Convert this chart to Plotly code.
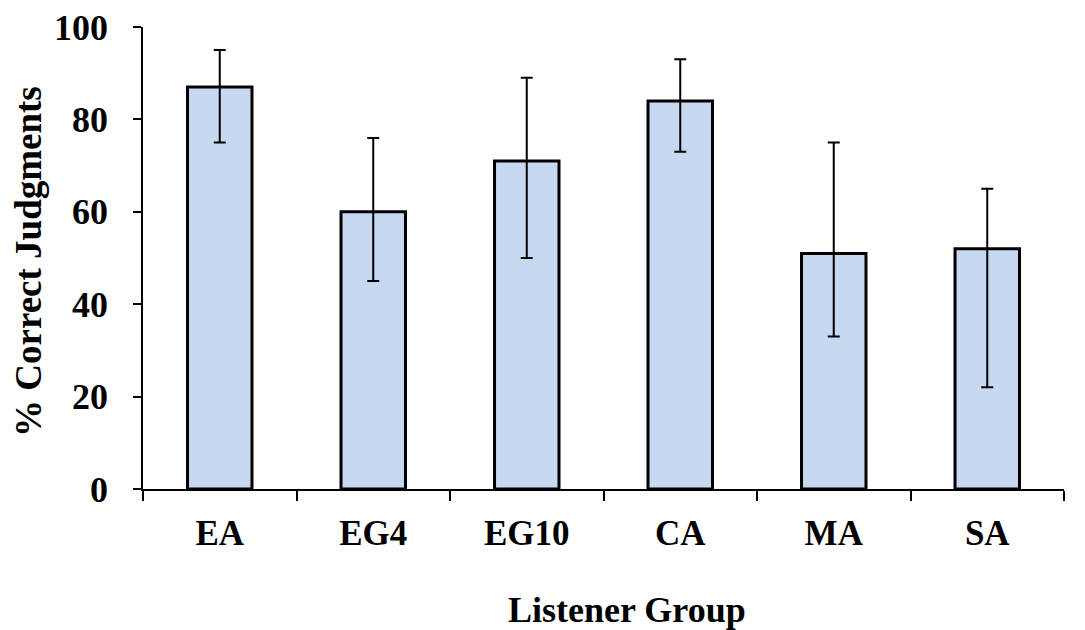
import plotly.graph_objects as go

categories = ["EA", "EG4", "EG10", "CA", "MA", "SA"]
means = [87, 60, 71, 84, 51, 52]
err_high = [95, 76, 89, 93, 75, 65]
err_low = [75, 45, 50, 73, 33, 22]

err_plus = [h - m for h, m in zip(err_high, means)]
err_minus = [m - l for m, l in zip(means, err_low)]

font_family = "Liberation Serif, Times New Roman, serif"

PLOT_L, PLOT_T = 143, 27
PLOT_W, PLOT_H = 921, 462
ZERO_Y = PLOT_T + PLOT_H

fig = go.Figure(
    go.Bar(
        x=categories,
        y=means,
        width=0.42,
        marker=dict(color="#C6D9F1", line=dict(color="black", width=3)),
        error_y=dict(
            type="data",
            symmetric=False,
            array=err_plus,
            arrayminus=err_minus,
            color="black",
            thickness=2,
            width=6,
        ),
    )
)

fig.update_layout(
    width=1085,
    height=630,
    margin=dict(l=PLOT_L, r=1085 - PLOT_L - PLOT_W, t=PLOT_T, b=630 - PLOT_T - PLOT_H),
    plot_bgcolor="white",
    paper_bgcolor="white",
    showlegend=False,
    font=dict(family=font_family, color="black"),
    annotations=[
        dict(
            text="<b>Listener Group</b>",
            xref="paper", yref="paper",
            x=(627 - PLOT_L) / PLOT_W, y=-(610 - ZERO_Y) / PLOT_H,
            xanchor="center", yanchor="middle",
            showarrow=False,
            font=dict(size=36, family=font_family, color="black"),
        ),
        dict(
            text="<b>% Correct Judgments</b>",
            xref="paper", yref="paper",
            x=-(PLOT_L - 28) / PLOT_W, y=(ZERO_Y - 262) / PLOT_H,
            xanchor="center", yanchor="middle",
            textangle=-90,
            showarrow=False,
            font=dict(size=37, family=font_family, color="black"),
        ),
    ],
)

fig.update_xaxes(
    automargin=False,
    showline=True,
    linecolor="black",
    linewidth=1.5,
    ticks="outside",
    tickson="boundaries",
    ticklen=10,
    tickwidth=1.5,
    tickcolor="black",
    ticklabelstandoff=12,
    ticklabeloverflow="allow",
    tickfont=dict(size=35, family=font_family, color="black", weight="bold"),
    showgrid=False,
)

fig.update_yaxes(
    automargin=False,
    range=[0, 100],
    tickvals=[0, 20, 40, 60, 80, 100],
    showline=True,
    linecolor="black",
    linewidth=1.5,
    ticks="outside",
    ticklen=8,
    tickwidth=1.5,
    tickcolor="black",
    ticklabelstandoff=18,
    ticklabeloverflow="allow",
    tickfont=dict(size=36, family=font_family, color="black", weight="bold"),
    showgrid=False,
    zeroline=False,
)

# remove the default 8px page margin so the figure fills the window exactly
fig.write_html(
    "out.html",
    config={"displayModeBar": False},
    post_script="document.body.style.margin='0px';document.body.style.overflow='hidden';",
)
